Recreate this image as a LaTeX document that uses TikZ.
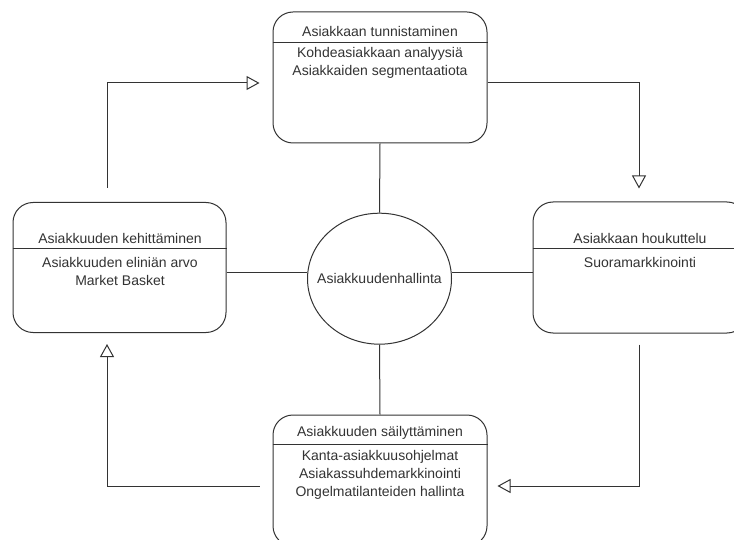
\documentclass[tikz,border=0pt]{standalone}
\usepackage{fontspec}
\setmainfont{Liberation Sans}
\usetikzlibrary{arrows.meta,shapes.geometric}
\definecolor{ink}{HTML}{333333}
\begin{document}
\begin{tikzpicture}[x=1pt,y=-1pt,
  every node/.style={font=\fontsize{14}{18}\selectfont, text=ink},
  box/.style={draw=ink, line width=1pt, rounded corners=20pt, inner sep=0pt},
  ln/.style={draw=ink, line width=1pt},
  arr/.style={draw=ink, line width=1pt, -{Triangle[open,length=13pt,width=14pt]}},
  txt/.style={align=center, inner sep=0pt}]
\useasboundingbox (0,0) rectangle (734,540);
\clip (0,0) rectangle (734,540);
\fill[white] (0,0) rectangle (734,540);
% boxes
\node[box, minimum width=214pt, minimum height=131pt] (top) at (380,77.5) {};
\node[box, minimum width=213pt, minimum height=130pt] (left) at (119.5,267.5) {};
\node[box, minimum width=214pt, minimum height=131pt] (right) at (640,267.5) {};
\node[box, minimum width=214pt, minimum height=131pt] (bot) at (380,480.5) {};
\node[ellipse, draw=ink, line width=1pt, inner sep=0pt, minimum width=144pt, minimum height=131pt] (circ) at (379.5,278.7) {};
% header lines
\coordinate (hT) at (0,42.5);
\coordinate (hS) at (0,249);
\coordinate (hB) at (0,444);
\draw[ln] (top.west |- hT) -- (top.east |- hT);
\draw[ln] (left.west |- hS) -- (left.east |- hS);
\draw[ln] (right.west |- hS) -- (right.east |- hS);
\draw[ln] (bot.west |- hB) -- (bot.east |- hB);
% texts
\node[txt] (tT) at (380,31) {Asiakkaan tunnistaminen};
\node[txt] (tTb) at (380,63) {Kohdeasiakkaan analyysiä\\Asiakkaiden segmentaatiota};
\node[txt] (tL) at (120,238) {Asiakkuuden kehittäminen};
\node[txt] (tLb) at (120,271) {Asiakkuuden eliniän arvo\\Market Basket};
\node[txt] (tR) at (640,238) {Asiakkaan houkuttelu};
\node[txt] (tRb) at (640,262) {Suoramarkkinointi};
\node[txt] (tB) at (380,433) {Asiakkuuden säilyttäminen};
\node[txt] (tBb) at (380,475) {Kanta-asiakkuusohjelmat\\Asiakassuhdemarkkinointi\\Ongelmatilanteiden hallinta};
\node[txt] (tC) at (circ.center) {Asiakkuudenhallinta};
% spokes
\coordinate (mid) at (0,273);
\draw[ln] (top.south) -- (circ.north);
\draw[ln] (bot.north) -- (circ.south);
\draw[ln] (left.east |- mid) -- (circ.west |- mid);
\draw[ln] (right.west |- mid) -- (circ.east |- mid);
% cycle arrows
\coordinate (xL) at (107,0);
\coordinate (xR) at (639,0);
\coordinate (yT) at (0,83);
\coordinate (yB) at (0,486);
\draw[arr, shorten <=14pt, shorten >=13pt] (left.north -| xL) |- (top.west |- yT);
\draw[arr, shorten >=13pt] (top.east |- yT) -| (right.north -| xR);
\draw[arr, shorten <=11pt, shorten >=10pt] (right.south -| xR) |- (bot.east |- yB);
\draw[arr, shorten <=13pt, shorten >=11pt] (bot.west |- yB) -| (left.south -| xL);
\end{tikzpicture}
\end{document}
